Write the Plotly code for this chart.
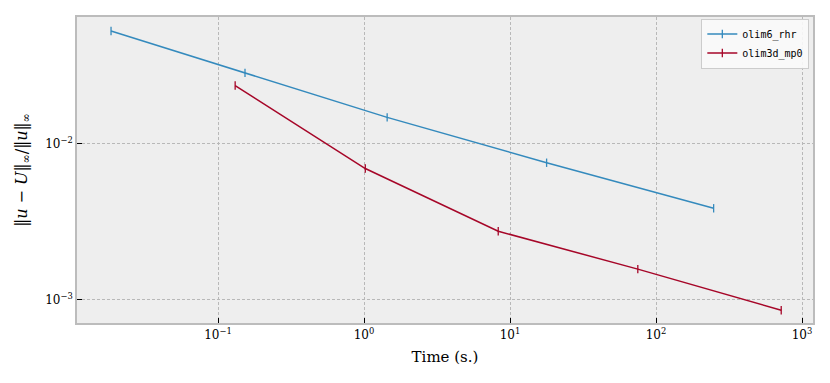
import plotly.graph_objects as go

# data (log-log convergence plot)
rhr_time = [0.0185, 0.153, 1.44, 17.8, 248]
rhr_err = [0.0531, 0.0286, 0.0148, 0.00757, 0.00386]

mp0_time = [0.131, 1.02, 8.3, 75.0, 720]
mp0_err = [0.0237, 0.00695, 0.00275, 0.00157, 0.000855]

x_tickvals = [0.1, 1, 10, 100, 1000]
x_ticktext = ["10<sup>\u22121</sup>", "10<sup>0</sup>", "10<sup>1</sup>", "10<sup>2</sup>", "10<sup>3</sup>"]
y_tickvals = [0.001, 0.01]
y_ticktext = ["10<sup>\u22123</sup>", "10<sup>\u22122</sup>"]

serif = "DejaVu Serif, Liberation Serif, serif"
mono = "DejaVu Sans Mono, Liberation Mono, monospace"

fig = go.Figure()
fig.add_trace(go.Scatter(
    x=rhr_time, y=rhr_err, mode="lines+markers", name="olim6_rhr",
    line=dict(color="#348ABD", width=1.5),
    marker=dict(symbol="line-ns", size=6, line=dict(color="#348ABD", width=1.3)),
))
fig.add_trace(go.Scatter(
    x=mp0_time, y=mp0_err, mode="lines+markers", name="olim3d_mp0",
    line=dict(color="#A60628", width=1.5),
    marker=dict(symbol="line-ns", size=6, line=dict(color="#A60628", width=1.3)),
))

axis_common = dict(
    type="log", showgrid=True, gridcolor="#b8b8b8", griddash="3px,2px", gridwidth=0.8,
    showline=True, mirror=True, linecolor="#bcbcbc", linewidth=1.5,
    ticks="inside", ticklen=5, tickcolor="black", tickwidth=1,
    zeroline=False, tickfont=dict(family=serif, size=12, color="black"),
)

# page body has an 8px margin, so the plot area is placed 8px up/left
fig.update_layout(
    width=830, height=383,
    margin=dict(l=69, r=25, t=7, b=68),
    paper_bgcolor="white", plot_bgcolor="#eeeeee",
    font=dict(family=serif, color="black"),
    xaxis=dict(axis_common, range=[-1.966, 3.075], tickvals=x_tickvals, ticktext=x_ticktext,
               title=dict(text="Time (s.)", font=dict(family=serif, size=15), standoff=10)),
    yaxis=dict(axis_common, range=[-3.150, -1.185], tickvals=y_tickvals, ticktext=y_ticktext,
               title=dict(text="\u2016<i>u</i> \u2212 <i>U</i>\u2016<sub>\u221e</sub>/\u2016<i>u</i>\u2016<sub>\u221e</sub>",
                          font=dict(family=serif, size=16), standoff=14)),
    legend=dict(x=0.995, y=0.995, xanchor="right", yanchor="top",
                bgcolor="rgba(250,250,250,0.9)", bordercolor="#cccccc", borderwidth=1,
                font=dict(family=mono, size=10), tracegroupgap=0, itemwidth=30),
    showlegend=True,
)

fig.write_html("out.html")
